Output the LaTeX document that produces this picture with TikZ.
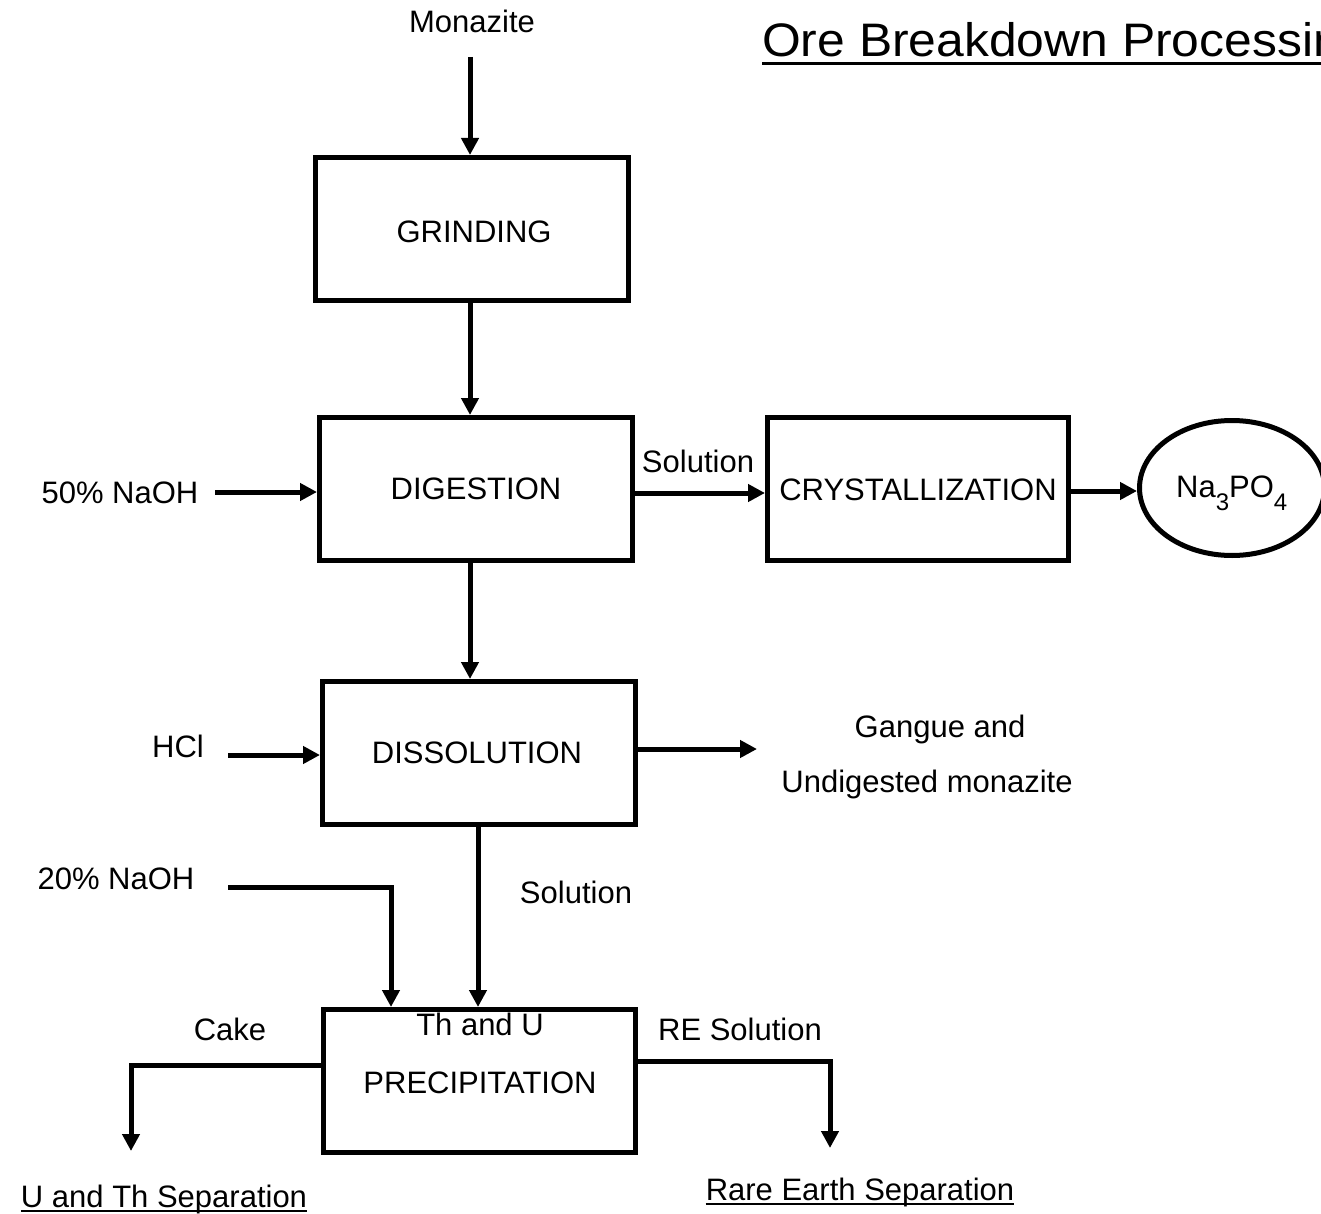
\documentclass[tikz,border=0pt]{standalone}
\usepackage{fontspec}
\setmainfont{Liberation Sans}
\usetikzlibrary{arrows.meta,shapes.geometric}
\begin{document}
\begin{tikzpicture}[x=1pt,y=-1pt,
  box/.style={draw,line width=5pt,minimum width=313pt,minimum height=143pt,inner sep=0pt},
  txt/.style={inner sep=0pt,anchor=base,font=\fontsize{31}{37}\selectfont},
  flow/.style={line width=5pt,-{Triangle[length=17pt,width=17pt]}},
  uline/.style={line width=2pt}]
\useasboundingbox (0,0) rectangle (1321,1214);

% title (runs past the right edge of the sheet)
\node[inner sep=0pt,anchor=base west,font=\fontsize{47}{54}\selectfont] (title) at (762,57) {\scalebox{1.06}[1]{Ore Breakdown Processing}};
\draw[line width=3pt] ([yshift=-7pt]title.base west) -- ([yshift=-7pt]title.base east);

% process boxes
\node[box] (grind) at (472,229) {};
\node[box] (dig) at (476,489) {};
\node[box,minimum width=301pt] (cryst) at (918,489) {};
\node[box] (diss) at (479,753) {};
\node[box,minimum width=312pt] (prec) at (479.5,1081) {};
\node[draw,ellipse,line width=5pt,minimum width=185pt,minimum height=135pt,inner sep=0pt] (na) at (1232,488) {};

% box captions
\node[txt] (grindt) at (474,243) {GRINDING};
\node[txt] (digt) at (476,499) {DIGESTION};
\node[txt] (crystt) at (918,500) {CRYSTALLIZATION};
\node[txt] (disst) at (477,763) {DISSOLUTION};
\node[txt] (prect1) at (480,1035) {Th and U};
\node[txt] (prect2) at (480,1093) {PRECIPITATION};
\node[txt,anchor=base west] (nat) at (1176,497) {Na\raisebox{-13pt}{\fontsize{24}{24}\selectfont 3}PO\raisebox{-13pt}{\fontsize{24}{24}\selectfont 4}};

% feeds and stream labels
\node[txt] (mon) at (472,33) {Monazite};
\node[txt] (naoh1) at (120,503) {50\% NaOH};
\node[txt] (sol1) at (698,472) {Solution};
\node[txt] (hcl) at (178,757) {HCl};
\node[txt] (gang1) at (940,737) {Gangue and};
\node[txt] (gang2) at (927,792) {Undigested monazite};
\node[txt] (naoh2) at (116,889) {20\% NaOH};
\node[txt] (sol2) at (576,903) {Solution};
\node[txt] (cake) at (230,1040) {Cake};
\node[txt] (resol) at (740,1040) {RE Solution};
\node[txt] (usep) at (164,1207) {U and Th Separation};
\node[txt] (resep) at (860,1200) {Rare Earth Separation};
\draw[uline] ([yshift=-4pt]usep.base west) -- ([yshift=-4pt]usep.base east);
\draw[uline] ([yshift=-4pt]resep.base west) -- ([yshift=-4pt]resep.base east);

% connector end points
\coordinate (monfoot) at (470,57);
\coordinate (naoh1end) at (215,492);
\coordinate (hclend) at (228,755);
\coordinate (gtip) at (757,749);
\coordinate (n2start) at (228,887);
\coordinate (n2bend) at (391,887);
\coordinate (cakebend) at (131,1065);
\coordinate (caketip) at (131,1151);
\coordinate (rebend) at (830,1061);
\coordinate (retip) at (830,1148);

% main flow
\draw[flow] (monfoot) -- (monfoot |- grind.north);
\draw[flow] (grind.south -| monfoot) -- (dig.north -| monfoot);
\draw[flow] (naoh1end) -- (naoh1end -| dig.west);
\draw[flow] ([yshift=-4pt]dig.east) -- ([yshift=-4pt]cryst.west);
\draw[flow] ([yshift=-2pt]cryst.east) -- ([yshift=-2pt]cryst.east -| na.west);
\draw[flow] (dig.south -| monfoot) -- (diss.north -| monfoot);
\draw[flow] (hclend) -- (hclend -| diss.west);
\draw[flow] (diss.east |- gtip) -- (gtip);
\draw[flow] ([xshift=-1pt]diss.south) -- ([xshift=-1.5pt]prec.north);
\draw[flow] (n2start) -- (n2bend) -- (n2bend |- prec.north);
\draw[flow] (prec.west |- cakebend) -- (cakebend) -- (caketip);
\draw[flow] (prec.east |- rebend) -- (rebend) -- (retip);
\end{tikzpicture}
\end{document}
